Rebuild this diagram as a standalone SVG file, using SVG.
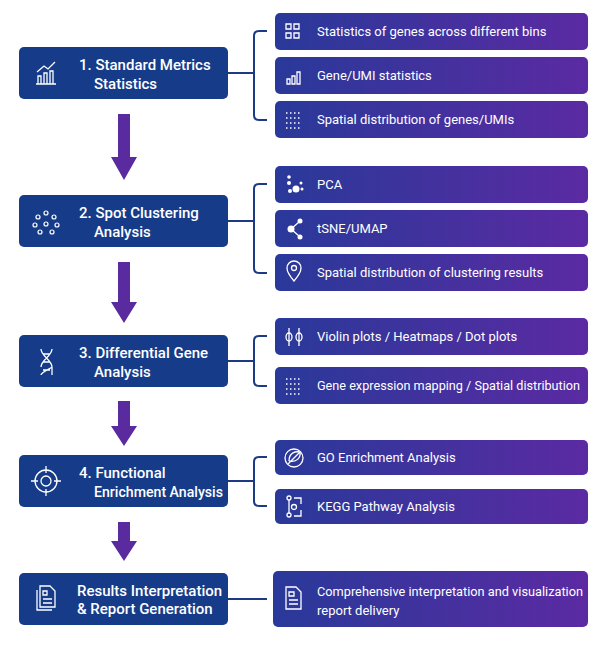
<svg xmlns="http://www.w3.org/2000/svg" width="605" height="649" viewBox="0 0 605 649">
<defs>
<linearGradient id="g" x1="0" y1="0" x2="1" y2="0"><stop offset="0" stop-color="#29399a"/><stop offset="1" stop-color="#5b2aa2"/></linearGradient>
<style>
.L{fill:#163b88}
.R{fill:url(#g)}
.t{font-family:"Roboto","Liberation Sans",sans-serif;fill:#fff;font-size:15px;font-weight:500}
.s{font-family:"Roboto","Liberation Sans",sans-serif;fill:#fff;font-size:13px}
.c{fill:none;stroke:#1d3a86;stroke-width:2}
.a{fill:#5a2b9e}
.i{fill:none;stroke:#fff;stroke-width:1.3}
</style>
</defs>
<rect width="605" height="649" fill="#fff"/>
<g id="connectors">
<path class="c" d="M228 73H254M267 31H259Q254 31 254 36V115Q254 120 259 120H267"/>
<path class="c" d="M228 221H254M267 184H259Q254 184 254 189V268Q254 273 259 273H267"/>
<path class="c" d="M228 361H254M267 336H259Q254 336 254 341V381Q254 386 259 386H267"/>
<path class="c" d="M228 481H254M267 457H259Q254 457 254 462V501Q254 506 259 506H267"/>
<path class="c" d="M228 599H267"/>
<path class="a" d="M118 114H130V157H137L124 180L111 157H118Z"/>
<path class="a" d="M118 262H130V302H137L124 323L111 302H118Z"/>
<path class="a" d="M118 401H130V426H137L124 446L111 426H118Z"/>
<path class="a" d="M118 522H130V541H137L124 561L111 541H118Z"/>
</g>
<g id="n1"><rect class="L" x="19" y="47" width="209" height="52" rx="5"/>
<path class="i" d="M36 84H56M38 84V76H41V84M44 84V73H47V84M50 84V71H53V84M37 72L44 66L48 69L55 62"/>
<text class="t" x="79" y="70">1. Standard Metrics</text><text class="t" x="94" y="89">Statistics</text></g>
<g id="n2"><rect class="L" x="19" y="195" width="209" height="52" rx="5"/>
<g fill="none" stroke="#fff" stroke-width="1.2"><circle cx="46" cy="213" r="2"/><circle cx="38" cy="217" r="2"/><circle cx="54" cy="217" r="2"/><circle cx="35" cy="225" r="2"/><circle cx="57" cy="225" r="2"/><circle cx="46" cy="224" r="2"/><circle cx="40" cy="232" r="2"/><circle cx="52" cy="232" r="2"/></g>
<text class="t" x="79" y="218">2. Spot Clustering</text><text class="t" x="94" y="237">Analysis</text></g>
<g id="n3"><rect class="L" x="19" y="335" width="209" height="52" rx="5"/>
<path class="i" d="M41 349C41 356 52 360 52 367C52 368 41 372 41 375M52 349C52 356 41 360 41 367M52 367V375M43 354H50M43 362H50M43 370H50"/>
<text class="t" x="79" y="358">3. Differential Gene</text><text class="t" x="94" y="377">Analysis</text></g>
<g id="n4"><rect class="L" x="19" y="455" width="209" height="52" rx="5"/>
<circle class="i" cx="46" cy="481" r="11"/><circle class="i" cx="46" cy="481" r="5"/><path class="i" d="M46 466V473M46 489V496M31 481H38M54 481H61"/>
<text class="t" x="79" y="478">4. Functional</text><text class="t" x="94" y="497" textLength="129" lengthAdjust="spacingAndGlyphs">Enrichment Analysis</text></g>
<g id="n5"><rect class="L" x="19" y="573" width="209" height="52" rx="5"/>
<path class="i" d="M40 586H50L55 591V607H40ZM37 590V610H52M43 591H47V595H43ZM43 599H52M43 603H52"/>
<text class="t" x="77" y="596">Results Interpretation</text><text class="t" x="77" y="614">&amp; Report Generation</text></g>
<g id="s1"><rect class="R" x="275" y="13" width="313" height="37" rx="5"/>
<path class="i" d="M286 24h5v5h-5zM294 24h5v5h-5zM286 33h5v5h-5zM294 33h5v5h-5z"/><text class="s" x="317" y="36">Statistics of genes across different bins</text></g>
<g id="s2"><rect class="R" x="275" y="57" width="313" height="37" rx="5"/>
<path class="i" d="M287 84v-5h3v5zM292 84v-8h3v8zM297 84v-12h3v12z"/><text class="s" x="317" y="80">Gene/UMI statistics</text></g>
<g id="s3"><rect class="R" x="275" y="101" width="313" height="37" rx="5"/>
<path d="M286 113h14M286 118h14M286 123h14M286 128h14" stroke="#fff" stroke-width="1.5" stroke-dasharray="1.5 2.5"/><text class="s" x="317" y="124">Spatial distribution of genes/UMIs</text></g>
<g id="s4"><rect class="R" x="275" y="166" width="313" height="37" rx="5"/>
<g fill="#fff"><circle cx="289" cy="177" r="1.8"/><circle cx="289" cy="183" r="2"/><circle cx="296" cy="189" r="3.5"/><circle cx="290" cy="191" r="2"/><circle cx="301" cy="183" r="1.5"/><circle cx="302" cy="189" r="1.5"/></g><text class="s" x="317" y="189">PCA</text></g>
<g id="s5"><rect class="R" x="275" y="210" width="313" height="37" rx="5"/>
<path class="i" d="M291 229L299 222M291 229L299 236"/><circle cx="291" cy="229" r="3.5" fill="#fff"/><circle cx="300" cy="221" r="2.5" fill="#fff"/><circle cx="300" cy="237" r="2.5" fill="#fff"/><text class="s" x="317" y="233">tSNE/UMAP</text></g>
<g id="s6"><rect class="R" x="275" y="254" width="313" height="37" rx="5"/>
<path class="i" d="M294 281C288 274 287 271 287 268A7 7 0 0 1 301 268C301 271 300 274 294 281Z"/><circle class="i" cx="294" cy="268" r="2.5"/><text class="s" x="317" y="277">Spatial distribution of clustering results</text></g>
<g id="s7"><rect class="R" x="275" y="318" width="313" height="37" rx="5"/>
<path class="i" d="M289 328V346M299 328V346"/><ellipse class="i" cx="289" cy="337" rx="3" ry="4"/><ellipse class="i" cx="299" cy="337" rx="3" ry="4"/><text class="s" x="317" y="341">Violin plots / Heatmaps / Dot plots</text></g>
<g id="s8"><rect class="R" x="275" y="367" width="313" height="37" rx="5"/>
<path d="M286 379h14M286 384h14M286 389h14M286 394h14" stroke="#fff" stroke-width="1.5" stroke-dasharray="1.5 2.5"/><text class="s" x="317" y="390" textLength="263" lengthAdjust="spacingAndGlyphs">Gene expression mapping / Spatial distribution</text></g>
<g id="s9"><rect class="R" x="275" y="440" width="313" height="35" rx="5"/>
<circle class="i" cx="294" cy="458" r="9"/><path class="i" d="M288 464L300 452M289 461C289 453 295 451 300 452C301 457 297 463 289 461"/><text class="s" x="317" y="462">GO Enrichment Analysis</text></g>
<g id="s10"><rect class="R" x="275" y="489" width="313" height="35" rx="5"/>
<circle class="i" cx="289" cy="498" r="2"/><circle class="i" cx="289" cy="515" r="2"/><circle class="i" cx="294" cy="507" r="2.5"/><path class="i" d="M289 500V513M294 498H301V504M294 516H301V510"/><text class="s" x="317" y="511">KEGG Pathway Analysis</text></g>
<g id="s11"><rect class="R" x="273" y="571" width="315" height="56" rx="5"/>
<path class="i" d="M286 587H296L301 592V609H286ZM289 592H294V596H289ZM289 600H298M289 604H298"/><text class="s" x="317" y="596" textLength="266" lengthAdjust="spacingAndGlyphs">Comprehensive interpretation and visualization</text><text class="s" x="317" y="615">report delivery</text></g>
</svg>
